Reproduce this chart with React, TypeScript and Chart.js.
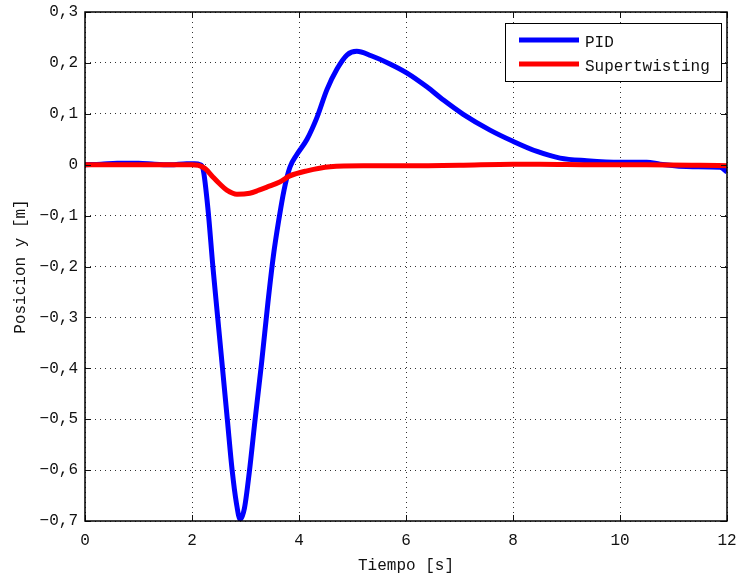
import React, { useEffect, useRef } from 'react';
import { Chart, registerables } from 'chart.js';
Chart.register(...registerables);

const pidTime = [0, 0.3, 0.6, 1.0, 1.3, 1.6, 1.9, 2.05, 2.15, 2.21, 2.30, 2.39, 2.48, 2.57, 2.66, 2.75, 2.83, 2.90, 2.98, 3.07, 3.18, 3.30, 3.42, 3.52, 3.62, 3.72, 3.83, 3.96, 4.15, 4.34, 4.52, 4.71, 4.90, 5.08, 5.35, 5.70, 6.02, 6.39, 6.70, 7.07, 7.57, 8.0, 8.45, 8.88, 9.38, 10.0, 10.5, 10.75, 11.36, 11.87, 12.0];
const pidPos = [0, 0.001, 0.003, 0.003, 0.001, 0.0, 0.002, 0.002, 0.0, -0.010, -0.089, -0.20, -0.30, -0.40, -0.50, -0.60, -0.665, -0.697, -0.675, -0.605, -0.50, -0.39, -0.27, -0.18, -0.11, -0.05, -0.005, 0.020, 0.050, 0.094, 0.147, 0.188, 0.216, 0.223, 0.214, 0.198, 0.180, 0.153, 0.127, 0.099, 0.068, 0.046, 0.026, 0.013, 0.008, 0.005, 0.005, 0.001, -0.004, -0.005, -0.014];

const stTime = [0, 2.0, 2.12, 2.25, 2.39, 2.52, 2.65, 2.84, 3.08, 3.25, 3.40, 3.64, 3.83, 4.15, 4.58, 5.2, 6.0, 7.0, 8.0, 8.5, 9.5, 10.5, 11.5, 12];
const stPos = [0, 0, -0.001, -0.008, -0.024, -0.038, -0.050, -0.058, -0.056, -0.050, -0.044, -0.034, -0.022, -0.012, -0.004, -0.002, -0.002, -0.001, 0.001, 0.001, 0.0, 0.0, -0.001, -0.002];

const xTicks = [0, 2, 4, 6, 8, 10, 12];
const yTicks = [0.3, 0.2, 0.1, 0, -0.1, -0.2, -0.3, -0.4, -0.5, -0.6, -0.7];
const seriesLabels = ['PID', 'Supertwisting'];
const seriesColors = ['#0000ff', '#ff0000'];
const xTitle = 'Tiempo [s]';
const yTitle = 'Posicion y [m]';

const FONT = '"Liberation Mono", "DejaVu Sans Mono", monospace';

const fmtY = (v: number) => {
  const r = Math.round(v * 10) / 10;
  if (r === 0) return '0';
  return r.toFixed(1).replace('.', ',').replace('-', '\u2212');
};

export default function App() {
  const ref = useRef<HTMLCanvasElement>(null);
  useEffect(() => {
    const framePlugin = {
      id: 'frame',
      afterDraw(chart: any) {
        const { ctx, chartArea: a, scales } = chart;
        const xs = scales.x;
        const ys = scales.y;
        ctx.save();
        ctx.strokeStyle = '#111';
        ctx.lineWidth = 1;
        const tl = 6;
        ctx.beginPath();
        xTicks.forEach((v) => {
          const px = Math.round(xs.getPixelForValue(v)) + 0.5;
          ctx.moveTo(px, a.bottom);
          ctx.lineTo(px, a.bottom - tl);
          ctx.moveTo(px, a.top);
          ctx.lineTo(px, a.top + tl);
        });
        yTicks.forEach((v) => {
          const py = Math.round(ys.getPixelForValue(v)) + 0.5;
          ctx.moveTo(a.left, py);
          ctx.lineTo(a.left + tl, py);
          ctx.moveTo(a.right, py);
          ctx.lineTo(a.right - tl, py);
        });
        ctx.stroke();
        ctx.lineWidth = 1.5;
        ctx.strokeStyle = '#000';
        ctx.strokeRect(a.left, a.top, a.right - a.left, a.bottom - a.top);

        const lx = 505, ly = 23, lw = 216, lh = 58;
        ctx.fillStyle = '#fff';
        ctx.fillRect(lx, ly, lw, lh);
        ctx.lineWidth = 1;
        ctx.strokeStyle = '#000';
        ctx.strokeRect(lx + 0.5, ly + 0.5, lw, lh);
        ctx.font = `16px ${FONT}`;
        ctx.textBaseline = 'middle';
        ctx.textAlign = 'left';
        seriesLabels.forEach((lab, i) => {
          const yy = 40 + i * 24;
          ctx.strokeStyle = seriesColors[i];
          ctx.lineWidth = 5;
          ctx.beginPath();
          ctx.moveTo(519, yy);
          ctx.lineTo(579, yy);
          ctx.stroke();
          ctx.fillStyle = '#111';
          ctx.fillText(lab, 585, yy + 3);
        });

        ctx.fillStyle = '#111';
        ctx.textAlign = 'center';
        ctx.fillText(xTitle, (a.left + a.right) / 2, 566);
        ctx.save();
        ctx.translate(21, (a.top + a.bottom) / 2);
        ctx.rotate(-Math.PI / 2);
        ctx.fillText(yTitle, 0, 0);
        ctx.restore();
        ctx.restore();
      },
    };

    const chart = new Chart(ref.current as HTMLCanvasElement, {
      type: 'line',
      data: {
        datasets: [
          {
            label: seriesLabels[0],
            data: pidTime.map((t, i) => ({ x: t, y: pidPos[i] })),
            borderColor: seriesColors[0],
            borderWidth: 5,
            pointRadius: 0,
            cubicInterpolationMode: 'monotone',
            fill: false,
            order: 2,
          },
          {
            label: seriesLabels[1],
            data: stTime.map((t, i) => ({ x: t, y: stPos[i] })),
            borderColor: seriesColors[1],
            borderWidth: 5,
            pointRadius: 0,
            cubicInterpolationMode: 'monotone',
            fill: false,
            order: 1,
          },
        ],
      },
      options: {
        responsive: false,
        animation: false,
        layout: { padding: { left: 0, top: 12, right: 12, bottom: 0 } },
        plugins: { legend: { display: false }, tooltip: { enabled: false } },
        scales: {
          x: {
            type: 'linear',
            min: 0,
            max: 12,
            afterBuildTicks: (s: any) => {
              s.ticks = xTicks.map((v) => ({ value: v }));
            },
            afterFit: (s: any) => {
              s.height = 60;
              s.paddingLeft = 0;
              s.paddingRight = 0;
            },
            grid: { color: '#333', lineWidth: 1, drawTicks: false },
            border: { display: false, dash: [1, 4] },
            ticks: {
              padding: 10,
              color: '#111',
              font: { family: FONT, size: 16 },
              maxRotation: 0,
              callback: (v: any) => String(v),
            },
          },
          y: {
            type: 'linear',
            min: -0.7,
            max: 0.3,
            afterBuildTicks: (s: any) => {
              s.ticks = yTicks.map((v) => ({ value: v }));
            },
            afterFit: (s: any) => {
              s.width = 85;
              s.paddingTop = 0;
              s.paddingBottom = 0;
            },
            grid: { color: '#333', lineWidth: 1, drawTicks: false },
            border: { display: false, dash: [1, 4] },
            ticks: {
              padding: 7,
              color: '#111',
              font: { family: FONT, size: 16 },
              callback: (v: any) => fmtY(Number(v)),
            },
          },
        },
      },
      plugins: [framePlugin],
    } as any);
    return () => chart.destroy();
  }, []);
  return (
    <div style={{ position: 'absolute', left: 0, top: 0, width: 739, height: 581, background: '#fff' }}>
      <canvas ref={ref} width={739} height={581} style={{ display: 'block' }} />
    </div>
  );
}
